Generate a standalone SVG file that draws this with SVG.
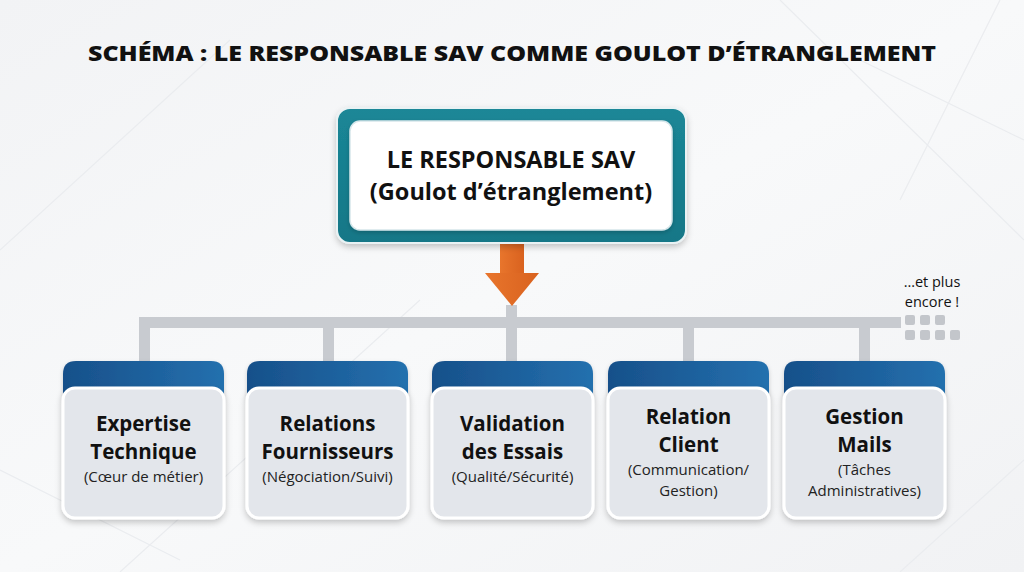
<svg xmlns="http://www.w3.org/2000/svg" width="1024" height="572" viewBox="0 0 1024 572">
<style>
  .title{font-family:"Open Sans","Liberation Sans",sans-serif;font-weight:800;font-size:21.5px;fill:#111}
  .main{font-family:"Open Sans","Liberation Sans",sans-serif;font-weight:700;font-size:23.5px;fill:#111;text-anchor:middle}
  .ct{font-family:"Open Sans","Liberation Sans",sans-serif;font-weight:700;font-size:20.5px;fill:#111;text-anchor:middle}
  .cs{font-family:"Open Sans","Liberation Sans",sans-serif;font-weight:400;font-size:15px;fill:#222;text-anchor:middle}
  .more{font-family:"Open Sans","Liberation Sans",sans-serif;font-weight:400;font-size:14.5px;fill:#111;text-anchor:middle}
  .bar{fill:#c8cbd0}
  .dot{fill:#c3c6cb}
  .hdr{fill:url(#hdrG)}
  .body{fill:#e3e6eb;stroke:#ffffff;stroke-width:3}
  .bgl{stroke:#eaecef;stroke-width:1.2;fill:none}
</style>
<defs>
  <linearGradient id="bgG" x1="0" y1="0" x2="1" y2="1">
    <stop offset="0" stop-color="#f2f3f5"/>
    <stop offset="0.5" stop-color="#f8f9fa"/>
    <stop offset="1" stop-color="#f1f2f4"/>
  </linearGradient>
  <linearGradient id="hdrG" x1="0" y1="0" x2="1" y2="0">
    <stop offset="0" stop-color="#17508a"/>
    <stop offset="1" stop-color="#2470ae"/>
  </linearGradient>
  <linearGradient id="tealG" x1="0" y1="0" x2="0" y2="1">
    <stop offset="0" stop-color="#1b8797"/>
    <stop offset="1" stop-color="#137787"/>
  </linearGradient>
  <linearGradient id="orG" x1="0" y1="0" x2="1" y2="0">
    <stop offset="0" stop-color="#e8752c"/>
    <stop offset="1" stop-color="#d9621f"/>
  </linearGradient>
  <filter id="sh" x="-20%" y="-20%" width="140%" height="150%">
    <feDropShadow dx="0" dy="3" stdDeviation="3" flood-color="#000" flood-opacity="0.22"/>
  </filter>
  <filter id="sh2" x="-20%" y="-20%" width="140%" height="150%">
    <feDropShadow dx="0" dy="2" stdDeviation="2" flood-color="#000" flood-opacity="0.18"/>
  </filter>
</defs>
<rect width="1024" height="572" fill="url(#bgG)"/>
<g id="background-lines">
  <path class="bgl" d="M0 250 L230 40 M0 470 L180 560 M120 572 L420 300 M780 0 L1024 240 M860 60 L1024 140 M900 572 L1024 460 M1000 0 L900 200"/>
</g>
<text class="title" x="512" y="61" text-anchor="middle" textLength="848" lengthAdjust="spacingAndGlyphs">SCHÉMA : LE RESPONSABLE SAV COMME GOULOT D’ÉTRANGLEMENT</text>

<g id="connectors">
  <rect class="bar" x="139" y="317" width="762" height="11"/>
  <rect class="bar" x="139" y="317" width="11" height="46"/>
  <rect class="bar" x="323" y="317" width="11" height="46"/>
  <rect class="bar" x="506" y="305" width="11" height="58"/>
  <rect class="bar" x="683" y="317" width="11" height="46"/>
  <rect class="bar" x="859" y="317" width="11" height="46"/>
  <g id="arrow">
    <rect x="500" y="228" width="24" height="46" fill="url(#orG)"/>
    <polygon points="485,273 539,273 512,306" fill="url(#orG)"/>
  </g>
</g>

<g id="more">
  <text class="more" x="932" y="287">…et plus</text>
  <text class="more" x="932" y="307">encore !</text>
  <rect class="dot" x="905" y="315" width="10" height="10" rx="2"/>
  <rect class="dot" x="920" y="315" width="10" height="10" rx="2"/>
  <rect class="dot" x="935" y="315" width="10" height="10" rx="2"/>
  <rect class="dot" x="905" y="330" width="10" height="10" rx="2"/>
  <rect class="dot" x="920" y="330" width="10" height="10" rx="2"/>
  <rect class="dot" x="935" y="330" width="10" height="10" rx="2"/>
  <rect class="dot" x="950" y="330" width="10" height="10" rx="2"/>
</g>

<g id="node-main">
  <rect x="337" y="108" width="349" height="135" rx="13" fill="url(#tealG)" stroke="#e9f2f4" stroke-width="2" filter="url(#sh)"/>
  <rect x="350" y="121" width="322" height="109" rx="10" fill="#ffffff" stroke="#d6e6ea" stroke-width="1.5" filter="url(#sh2)"/>
  <text class="main" x="511" y="168">LE RESPONSABLE SAV</text>
  <text class="main" x="511" y="200">(Goulot d’étranglement)</text>
</g>

<g id="node-expertise" transform="translate(63,0)">
  <path class="hdr" d="M0 400 L0 374 Q0 361 13 361 L148 361 Q161 361 161 374 L161 400 Z" filter="url(#sh2)"/>
  <rect class="body" x="0" y="388" width="161" height="130" rx="12" filter="url(#sh)"/>
  <text class="ct" x="80.5" y="431">Expertise</text>
  <text class="ct" x="80.5" y="459">Technique</text>
  <text class="cs" x="80.5" y="482">(Cœur de métier)</text>
</g>

<g id="node-fournisseurs" transform="translate(247,0)">
  <path class="hdr" d="M0 400 L0 374 Q0 361 13 361 L148 361 Q161 361 161 374 L161 400 Z" filter="url(#sh2)"/>
  <rect class="body" x="0" y="388" width="161" height="130" rx="12" filter="url(#sh)"/>
  <text class="ct" x="80.5" y="431">Relations</text>
  <text class="ct" x="80.5" y="459">Fournisseurs</text>
  <text class="cs" x="80.5" y="482">(Négociation/Suivi)</text>
</g>

<g id="node-essais" transform="translate(432,0)">
  <path class="hdr" d="M0 400 L0 374 Q0 361 13 361 L148 361 Q161 361 161 374 L161 400 Z" filter="url(#sh2)"/>
  <rect class="body" x="0" y="388" width="161" height="130" rx="12" filter="url(#sh)"/>
  <text class="ct" x="80.5" y="431">Validation</text>
  <text class="ct" x="80.5" y="459">des Essais</text>
  <text class="cs" x="80.5" y="482">(Qualité/Sécurité)</text>
</g>

<g id="node-client" transform="translate(608,0)">
  <path class="hdr" d="M0 400 L0 374 Q0 361 13 361 L148 361 Q161 361 161 374 L161 400 Z" filter="url(#sh2)"/>
  <rect class="body" x="0" y="388" width="161" height="130" rx="12" filter="url(#sh)"/>
  <text class="ct" x="80.5" y="424">Relation</text>
  <text class="ct" x="80.5" y="452">Client</text>
  <text class="cs" x="80.5" y="475">(Communication/</text>
  <text class="cs" x="80.5" y="496">Gestion)</text>
</g>

<g id="node-mails" transform="translate(784,0)">
  <path class="hdr" d="M0 400 L0 374 Q0 361 13 361 L148 361 Q161 361 161 374 L161 400 Z" filter="url(#sh2)"/>
  <rect class="body" x="0" y="388" width="161" height="130" rx="12" filter="url(#sh)"/>
  <text class="ct" x="80.5" y="424">Gestion</text>
  <text class="ct" x="80.5" y="452">Mails</text>
  <text class="cs" x="80.5" y="475">(Tâches</text>
  <text class="cs" x="80.5" y="496">Administratives)</text>
</g>
</svg>
